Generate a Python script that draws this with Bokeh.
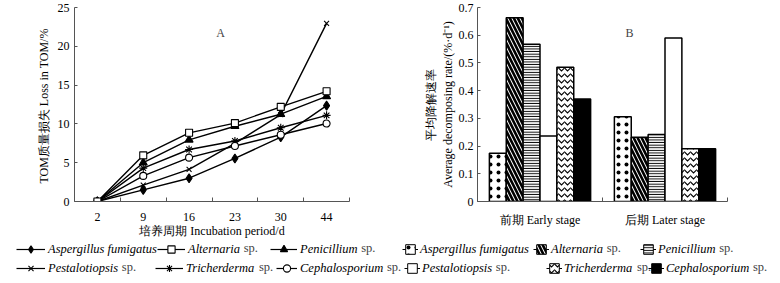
from bokeh.plotting import figure
from bokeh.models import Range1d, FixedTicker, Legend, LegendItem, Label, NumeralTickFormatter
from bokeh.layouts import column, row
from bokeh.embed import file_html
from bokeh.resources import INLINE

# ---------------- data ----------------
periods = ["2", "9", "16", "23", "30", "44"]
asp_loss = [0, 1.5, 3.0, 5.55, 8.3, 12.35]
alt_loss = [0, 5.95, 8.85, 10.1, 12.2, 14.2]
pen_loss = [0, 5.0, 7.95, 9.7, 11.25, 13.55]
pest_loss = [0, 2.1, 4.15, 7.5, 11.2, 22.95]
tri_loss = [0, 4.3, 6.7, 7.8, 9.5, 11.1]
ceph_loss = [0, 3.3, 5.65, 7.15, 8.6, 10.05]

stages = ["前期 Early stage", "后期 Later stage"]
asp_rate = [0.174, 0.306]
alt_rate = [0.663, 0.232]
pen_rate = [0.567, 0.242]
pest_rate = [0.236, 0.590]
tri_rate = [0.484, 0.190]
ceph_rate = [0.370, 0.190]

species = ["Aspergillus fumigatus", "Alternaria", "Penicillium",
           "Pestalotiopsis", "Tricherderma", "Cephalosporium"]
has_sp = [False, True, True, True, True, True]

y_ticks_a = [0, 5, 10, 15, 20, 25]
y_ticks_b = [0, 0.1, 0.2, 0.3, 0.4, 0.5, 0.6, 0.7]

SERIF = "Liberation Serif"
AX = "#555555"
FS = "12px"

def style_axes(p):
    p.grid.visible = False
    p.outline_line_color = None
    for ax in p.axis:
        ax.axis_line_color = AX
        ax.major_label_text_font = SERIF
        ax.major_label_text_font_size = FS
        ax.major_label_text_color = "black"
        ax.axis_label_text_font = SERIF
        ax.axis_label_text_font_size = FS
        ax.axis_label_text_font_style = "normal"
        ax.axis_label_text_color = "black"

# ---------------- chart A ----------------
n = len(periods)
xa = [i + 0.5 for i in range(n)]
pa = figure(width=390, height=240, x_range=Range1d(0, n), y_range=Range1d(0, 25),
            output_backend="svg", toolbar_location=None,
            min_border_left=74, min_border_right=41, min_border_top=7, min_border_bottom=38)
style_axes(pa)
pa.xaxis.ticker = FixedTicker(ticks=xa, minor_ticks=list(range(n + 1)))
pa.xaxis.major_label_overrides = {x: lab for x, lab in zip(xa, periods)}
pa.xaxis.major_tick_line_color = None
pa.xaxis.minor_tick_line_color = AX
pa.xaxis.minor_tick_in = 4
pa.xaxis.minor_tick_out = 0
pa.xaxis.major_label_standoff = 5
pa.xaxis.axis_label = "培养周期 Incubation period/d"
pa.xaxis.axis_label_standoff = 0
pa.yaxis.ticker = FixedTicker(ticks=y_ticks_a)
pa.yaxis.major_tick_line_color = AX
pa.yaxis.major_tick_in = 3
pa.yaxis.major_tick_out = 0
pa.yaxis.minor_tick_line_color = None
pa.yaxis.major_label_standoff = 5
pa.yaxis.axis_label = "TOM质量损失  Loss in TOM/%"
pa.yaxis.axis_label_standoff = 4

line_specs = [
    # (values, marker, size, fill)
    (asp_loss, "diamond", 9, "black"),
    (alt_loss, "square", 7, "white"),
    (pen_loss, "triangle", 8, "black"),
    (pest_loss, "x", 7, None),
    (tri_loss, "asterisk", 8, None),
    (ceph_loss, "circle", 7, "white"),
]
draw_order = [3, 0, 4, 5, 2, 1]
for k in draw_order:
    vals, mk, sz, fc = line_specs[k]
    pa.line(xa, vals, line_color="black", line_width=1.4)
    pa.scatter(xa, vals, marker=mk, size=sz, fill_color=fc, line_color="black", line_width=1.1)

pa.add_layout(Label(x=146, y=169, x_units="screen", y_units="screen", text="A",
                    text_font=SERIF, text_font_size=FS, text_align="center",
                    text_baseline="middle"))

# ---------------- chart B ----------------
m = len(stages)
bw = 0.135
pb = figure(width=390, height=240, x_range=Range1d(0, m), y_range=Range1d(0, 0.7),
            output_backend="svg", toolbar_location=None,
            min_border_left=87, min_border_right=53, min_border_top=7, min_border_bottom=38)
style_axes(pb)
xb = [g + 0.5 for g in range(m)]
pb.xaxis.ticker = FixedTicker(ticks=xb, minor_ticks=list(range(m + 1)))
pb.xaxis.major_label_overrides = {x: lab for x, lab in zip(xb, stages)}
pb.xaxis.major_tick_line_color = None
pb.xaxis.minor_tick_line_color = AX
pb.xaxis.minor_tick_in = 4
pb.xaxis.minor_tick_out = 0
pb.xaxis.major_label_standoff = 5
pb.yaxis.ticker = FixedTicker(ticks=y_ticks_b)
pb.yaxis.formatter = NumeralTickFormatter(format="0.[0]")
pb.yaxis.major_tick_line_color = AX
pb.yaxis.major_tick_in = 3
pb.yaxis.major_tick_out = 0
pb.yaxis.minor_tick_line_color = None
pb.yaxis.major_label_standoff = 4
pb.yaxis.axis_label = "平均降解速率\nAverage decomposing rate/(%·d⁻¹)"
pb.yaxis.axis_label_standoff = 1

bar_styles = [
    dict(fill_color="white", hatch_pattern="dot", hatch_scale=8, hatch_weight=1),
    dict(fill_color="white", hatch_pattern="left_diagonal_line", hatch_scale=8, hatch_weight=2.6),
    dict(fill_color="white", hatch_pattern="horizontal_line", hatch_scale=2.6, hatch_weight=1.3),
    dict(fill_color="white"),
    dict(fill_color="white", hatch_pattern="horizontal_wave", hatch_scale=6, hatch_weight=1.1),
    dict(fill_color="black"),
]
rates = [asp_rate, alt_rate, pen_rate, pest_rate, tri_rate, ceph_rate]
bar_x = []
for i, (vals, st) in enumerate(zip(rates, bar_styles)):
    xs = [c + (i - 2.5) * bw for c in xb]
    bar_x.append(xs)
    pb.vbar(x=xs, top=vals, width=bw, line_color="black", line_width=1.5,
            hatch_color="black", **st)

pb.add_layout(Label(x=152, y=169, x_units="screen", y_units="screen", text="B",
                    text_font=SERIF, text_font_size=FS, text_align="center",
                    text_baseline="middle"))

# ---------------- legends ----------------
# legend strip: the series are plotted here too, but the view range keeps them off-screen
pl = figure(width=780, height=43, x_axis_type=None, y_axis_type=None,
            x_range=Range1d(-20, -19), y_range=Range1d(-20, -19),
            output_backend="svg", toolbar_location=None, min_border=0)
pl.outline_line_color = None
LFS = "12.5px"
SP_SHIFT = {"Aspergillus fumigatus": 109.4, "Alternaria": 52.1, "Penicillium": 57.6,
            "Pestalotiopsis": 70.2, "Tricherderma": 69.4, "Cephalosporium": 83.3}

def one_legend(fig, rends, label, x, yc, gw, gh, standoff, fsize=LFS):
    lg = Legend(items=[LegendItem(label=label, renderers=rends)], location=(x, yc - gh / 2),
                orientation="vertical", padding=0, margin=0, spacing=0,
                glyph_width=gw, glyph_height=gh, label_height=gh, label_standoff=standoff,
                label_text_font=SERIF, label_text_font_style="italic",
                label_text_font_size=fsize, label_text_color="black",
                border_line_color=None, background_fill_alpha=0)
    fig.add_layout(lg)

def sp_label(fig, x, yc):
    fig.add_layout(Label(x=x, y=yc + 1.5, x_units="screen", y_units="screen", text="sp.",
                         text_font=SERIF, text_font_size=LFS, text_baseline="middle",
                         text_align="left"))

# line-chart legend: glyph start x, glyph width, row center y
pos_a = [(16, 29, 34), (157, 28, 34), (270, 27, 34), (16, 29, 15), (155, 28, 15), (276, 21, 15)]
for k, (x, gw, yc) in enumerate(pos_a):
    vals, mk, sz, fc = line_specs[k]
    lr = pl.line(xa, vals, line_color="black", line_width=1.2)
    sr = pl.scatter(xa, vals, marker=mk, size=sz, fill_color=fc, line_color="black", line_width=1.1)
    one_legend(pl, [lr, sr], species[k], x, yc, gw, 18, 3)
    if has_sp[k]:
        sp_label(pl, x + gw + 3 + SP_SHIFT[species[k]] + 3.1, yc)

# bar-chart legend
pos_b = [(402, 34), (533, 34), (640, 34), (404, 15), (546, 15), (648, 15)]
for k, (x, yc) in enumerate(pos_b):
    lr = pl.line(bar_x[k], rates[k], line_color="black", line_width=1)
    one_legend(pl, [lr], species[k], x, yc, 16, 18, 2)
    br = pl.vbar(x=bar_x[k], top=rates[k], width=bw, line_color="black", line_width=1,
                 hatch_color="black", **bar_styles[k])
    one_legend(pl, [br], " ", x + 2, yc, 12, 12, 0, fsize="1px")
    if has_sp[k]:
        sp_label(pl, x + 16 + 2 + SP_SHIFT[species[k]] + 3.1, yc)

layout = column(row(pa, pb), pl)
open("out.html", "w").write(file_html(layout, INLINE))
